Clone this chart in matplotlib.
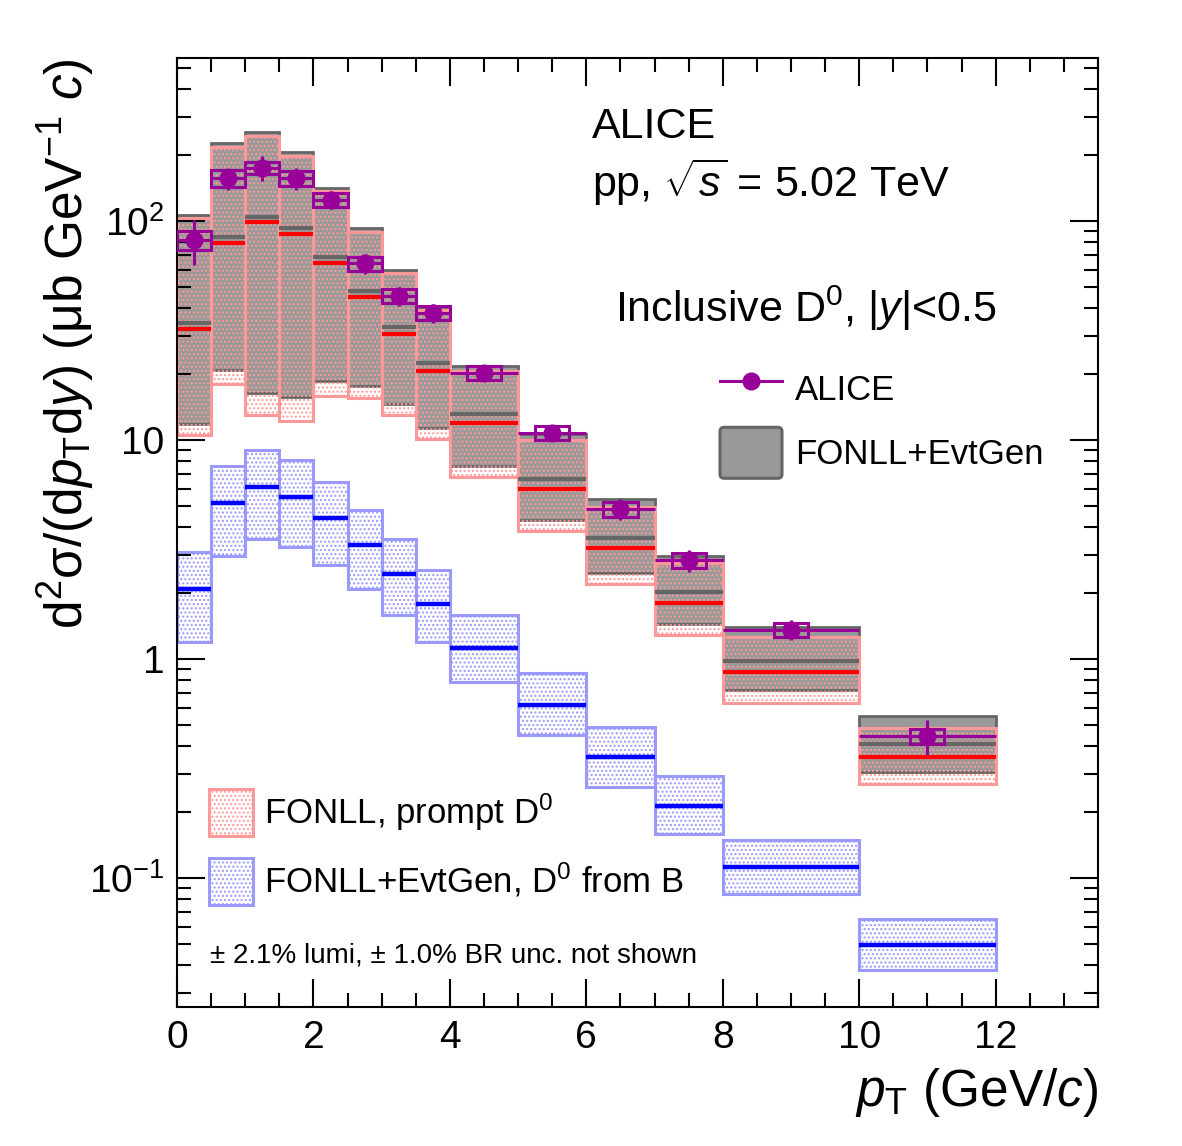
import numpy as np
import matplotlib
matplotlib.use('Agg')
import matplotlib.pyplot as plt
from matplotlib.patches import Patch, FancyBboxPatch
from matplotlib.lines import Line2D
from matplotlib.legend_handler import HandlerPatch
from matplotlib.ticker import FixedLocator, FixedFormatter, MultipleLocator, LogLocator, NullFormatter

plt.rcParams['font.family'] = ['Liberation Sans', 'DejaVu Sans']
plt.rcParams['mathtext.fontset'] = 'custom'
plt.rcParams['mathtext.rm'] = 'Liberation Sans'
plt.rcParams['mathtext.it'] = 'Liberation Sans:italic'
plt.rcParams['mathtext.bf'] = 'Liberation Sans:bold'
plt.rcParams['hatch.linewidth'] = 1.0

# ---------------- data ----------------
pt_edges = [0, 0.5, 1, 1.5, 2, 2.5, 3, 3.5, 4, 5, 6, 7, 8, 10, 12]

alice_y = [82, 157, 175, 157, 125, 64, 45.5, 38, 20.2, 10.8, 4.84, 2.83, 1.36, 0.445]
alice_stat = [19, 18.5, 23.5, 18, 12, 6.5, 4.6, 3.8, 1.5, 0.95, 0.52, 0.33, 0.14, 0.08]
alice_syst = [8.2, 13.8, 11.7, 12.9, 9.1, 4.7, 3.3, 2.8, 1.5, 0.82, 0.39, 0.215, 0.103, 0.034]

prompt_high = [103, 218, 245, 199, 137, 89.4, 57.6, 39.2, 20.7, 10.0, 4.96, 2.75, 1.26, 0.486]
prompt_central = [32.1, 79.6, 99, 87.2, 64.5, 44.8, 30.4, 20.6, 12.0, 6.0, 3.20, 1.81, 0.873, 0.357]
prompt_low = [10.5, 18.0, 13.0, 12.2, 15.9, 15.6, 13.0, 10.1, 6.76, 3.86, 2.20, 1.29, 0.631, 0.268]

incl_high = [106.5, 226, 254, 206, 142, 92.6, 59.7, 40.4, 21.8, 10.6, 5.40, 2.95, 1.40, 0.550]
incl_central = [34.2, 84.4, 104.6, 92.6, 68.7, 47.9, 32.7, 22.4, 13.1, 6.62, 3.56, 2.02, 0.98, 0.407]
incl_low = [11.8, 20.9, 16.4, 15.7, 18.5, 17.7, 14.6, 11.3, 7.6, 4.32, 2.46, 1.44, 0.722, 0.305]

fd_high = [3.09, 7.64, 8.99, 8.11, 6.46, 4.79, 3.52, 2.55, 1.59, 0.865, 0.491, 0.292, 0.149, 0.065]
fd_central = [2.09, 5.17, 6.10, 5.51, 4.42, 3.32, 2.44, 1.78, 1.12, 0.617, 0.358, 0.214, 0.112, 0.0494]
fd_low = [1.19, 2.95, 3.52, 3.26, 2.69, 2.09, 1.59, 1.20, 0.787, 0.450, 0.261, 0.159, 0.0845, 0.038]

ytick_values = [0.1, 1, 10, 100]
ytick_labels = ['$10^{-1}$', '1', '10', '$10^{2}$']
xtick_values = [0, 2, 4, 6, 8, 10, 12]

# ---------------- colours ----------------
PURPLE = '#990099'
PINK = '#ff9999'
RED = '#ff0000'
GRAY_FILL = '#999999'
GRAY_EDGE = '#666666'
LBLUE = '#9999ff'
BLUE = '#0000ff'

edges = np.array(pt_edges, dtype=float)
left = edges[:-1]
width = np.diff(edges)
center = left + width / 2

fig = plt.figure(figsize=(11.82, 11.46), dpi=100)
ax = fig.add_axes([177/1182, 1-1007/1146, (1098-177)/1182, (1007-58)/1146])
ax.set_yscale('log')

def hbox(low, high, **kw):
    low = np.array(low); high = np.array(high)
    ax.bar(left, high - low, bottom=low, width=width, align='edge', **kw)

# inclusive FONLL+EvtGen (gray)
hbox(incl_low, incl_high, color=GRAY_FILL, edgecolor=GRAY_EDGE, linewidth=2.0, zorder=1)
# prompt FONLL (pink hatched)
hbox(prompt_low, prompt_high, facecolor='none', edgecolor=PINK, hatch='....', linewidth=2.2, zorder=1.1)
ax.hlines(prompt_central, left, left + width, colors=RED, linewidth=3.0, zorder=2)
ax.hlines(incl_central, left, left + width, colors=GRAY_EDGE, linewidth=3.0, zorder=2.1)
# feed-down (blue hatched)
hbox(fd_low, fd_high, facecolor='none', edgecolor=LBLUE, hatch='....', linewidth=2.2, zorder=1.2)
ax.hlines(fd_central, left, left + width, colors=BLUE, linewidth=3.2, zorder=2)

# ALICE data: syst boxes + stat errors
ay = np.array(alice_y); asy = np.array(alice_syst)
ax.bar(center, 2 * asy, bottom=ay - asy, width=0.5, fill=False, edgecolor=PURPLE,
       linewidth=2.2, zorder=4)
ax.errorbar(center, ay, yerr=alice_stat, xerr=width / 2, fmt='o', color=PURPLE,
            ms=12, elinewidth=2.2, capsize=0, zorder=5)

# axes
ax.set_xlim(0, 13.5)
ax.set_ylim(0.02576, 555)
ax.xaxis.set_major_locator(FixedLocator(xtick_values))
ax.xaxis.set_minor_locator(MultipleLocator(0.5))
ax.yaxis.set_major_locator(FixedLocator(ytick_values))
ax.yaxis.set_major_formatter(FixedFormatter(ytick_labels))
ax.yaxis.set_minor_locator(LogLocator(base=10, subs=np.arange(2, 10)))
ax.yaxis.set_minor_formatter(NullFormatter())
ax.tick_params(which='both', direction='in', top=True, right=True, width=1.5, labelsize=28)
ax.tick_params(which='major', length=20, pad=9)
ax.tick_params(which='minor', length=10)
for s in ax.spines.values():
    s.set_linewidth(1.5)

ax.set_ylabel('d$^{2}$σ/(d$p_{\\mathrm{T}}$d$y$) (μb GeV$^{-1}$ $c$)', fontsize=37, loc='top')
ax.yaxis.set_label_coords(-0.088, 1.0)
ax.set_xlabel('$p_{\\mathrm{T}}$ (GeV/$c$)', fontsize=37, loc='right')
ax.xaxis.set_label_coords(1.0, -0.062)

# texts
fig.text(592/1182, 1-138/1146, 'ALICE', fontsize=31, va='baseline')
fig.text(592/1182, 1-197/1146, 'pp, $\\sqrt{s}$ = 5.02 TeV', fontsize=31, va='baseline')
fig.text(615/1182, 1-322/1146, 'Inclusive D$^{0}$, |$y$|<0.5', fontsize=31, va='baseline')
fig.text(210/1182, 1-962/1146, '± 2.1% lumi, ± 1.0% BR unc. not shown', fontsize=20, va='baseline')

# legends
def round_box(legend, orig_handle, xdescent, ydescent, width, height, fontsize):
    return FancyBboxPatch((-xdescent, -ydescent), width, height,
                          boxstyle='round,pad=0,rounding_size=3')

fs_leg = 25
pxfs = fs_leg * 100 / 72

def hh_for(px):
    # legend handle box height = fontsize*(0.65*hh + 0.245)
    return (px / pxfs - 0.245) / 0.65

h_alice = Line2D([], [], color=PURPLE, marker='o', ms=12, lw=2.2)
h_incl = Patch(facecolor=GRAY_FILL, edgecolor=GRAY_EDGE, linewidth=2.2)
leg1 = ax.legend([h_alice, h_incl], ['ALICE', 'FONLL+EvtGen'], fontsize=fs_leg,
                 frameon=False, loc='upper left',
                 bbox_to_anchor=(720/1182, 1-363/1146), bbox_transform=fig.transFigure,
                 borderpad=0, borderaxespad=0, handlelength=62/pxfs, handleheight=hh_for(51),
                 labelspacing=13.3/pxfs, handletextpad=13/pxfs,
                 handler_map={Patch: HandlerPatch(patch_func=round_box)})
ax.add_artist(leg1)

h_prompt = Patch(facecolor='none', edgecolor=PINK, hatch='....', linewidth=2.2)
h_fd = Patch(facecolor='none', edgecolor=LBLUE, hatch='....', linewidth=2.2)
leg2 = ax.legend([h_prompt, h_fd], ['FONLL, prompt D$^{0}$', 'FONLL+EvtGen, D$^{0}$ from B'],
                 fontsize=fs_leg, frameon=False, loc='upper left',
                 bbox_to_anchor=(209/1182, 1-789/1146), bbox_transform=fig.transFigure,
                 borderpad=0, borderaxespad=0, handlelength=44/pxfs, handleheight=hh_for(47),
                 labelspacing=21.5/pxfs, handletextpad=11/pxfs)

fig.savefig('out.png', dpi=100)
